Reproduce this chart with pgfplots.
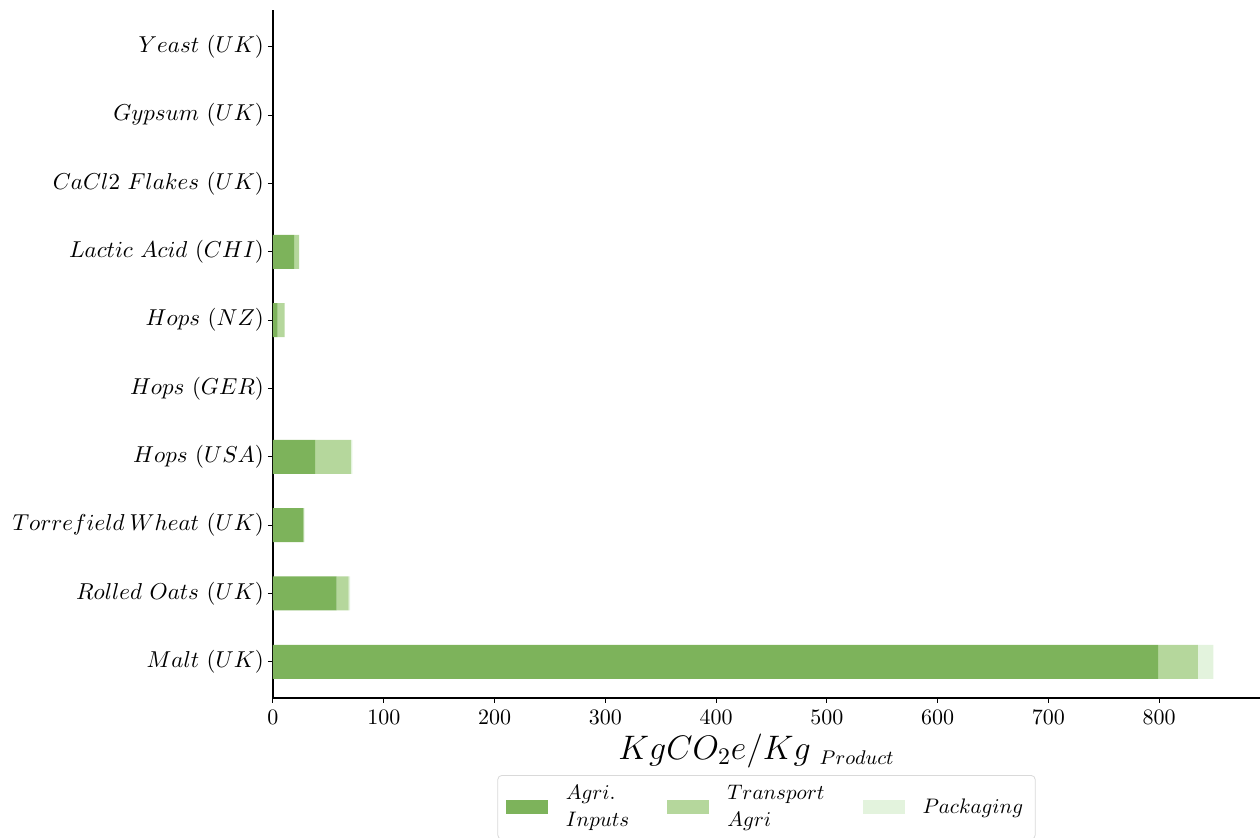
\RequirePackage{fix-cm}
\documentclass[border=0pt]{standalone}
\usepackage{pgfplots}
\pgfplotsset{compat=1.18}
\usepackage{pgfplotstable}

\definecolor{agri}{RGB}{125,179,91}
\definecolor{transp}{RGB}{181,215,156}
\definecolor{pack}{RGB}{227,243,221}

% Emissions per ingredient (kg CO2e per kg product), rows bottom to top
\pgfplotstableread{
y agri transport packaging
0 799 36 14
1 57.5 10.8 1.3
2 27.4 0.5 0.7
3 38 32.4 1.3
4 0 0 0
5 4.2 6.3 0
6 19 4.7 0
7 0 0 0
8 0 0 0
9 0 0 0
}\emis

\begin{document}
\begin{tikzpicture}
\useasboundingbox (-136.5pt,-70pt) rectangle (493.5pt,349pt);
\begin{axis}[
  at={(0,0)}, anchor=south west,
  scale only axis,
  width=493.5pt, height=344pt,
  xbar stacked,
  bar width=17pt,
  xmin=0, xmax=891,
  ymin=-0.53, ymax=9.54,
  axis x line*=bottom,
  axis y line*=left,
  axis line style={line width=0.6pt, -},
  xtick={0,100,...,800},
  ytick={0,...,9},
  yticklabels={
    $Malt\ (UK)$,
    $Rolled\ Oats\ (UK)$,
    $Torrefield\:Wheat\ (UK)$,
    $Hops\ (USA)$,
    $Hops\ (GER)$,
    $Hops\ (NZ)$,
    $Lactic\ Acid\ (CHI)$,
    $CaCl2\ Flakes\ (UK)$,
    $Gypsum\ (UK)$,
    $Yeast\ (UK)$},
  tick align=outside,
  major tick length=2.5pt,
  tick style={line width=0.5pt, black},
  xtick pos=bottom, ytick pos=left,
  x tick label style={font=\fontsize{11}{12}\selectfont},
  y tick label style={font=\fontsize{11.5}{13}\selectfont, xshift=1.5pt},
  xlabel={$KgCO_2e/Kg_{\hspace{5pt}\mbox{\fontsize{9.9}{10}\selectfont$Product$}}$},
  xlabel style={font=\fontsize{17}{20}\selectfont, yshift=2pt, xshift=-5pt},
  legend style={
    at={(0.5,-0.112)}, anchor=north,
    legend columns=3,
    draw=black!15, rounded corners=2pt,
    font=\fontsize{10.5}{12.5}\selectfont,
    /tikz/every even column/.append style={column sep=17pt},
    /tikz/every odd column/.append style={column sep=7pt},
    inner xsep=4pt, inner ysep=3pt,
  },
  legend cell align=left,
  legend image code/.code={
    \fill[#1, sharp corners] (0pt,-3.5pt) rectangle (21pt,3.5pt);
  },
]
\addplot[fill=agri, draw=none] table[x=agri, y=y] {\emis};
\addlegendentry{\shortstack[l]{$Agri.$\\[1pt]$Inputs$}}
\addplot[fill=transp, draw=none] table[x=transport, y=y] {\emis};
\addlegendentry{\shortstack[l]{$Transport$\\[1pt]$Agri$}}
\addplot[fill=pack, draw=none] table[x=packaging, y=y] {\emis};
\addlegendentry{$Packaging$}
\end{axis}
\end{tikzpicture}
\end{document}
